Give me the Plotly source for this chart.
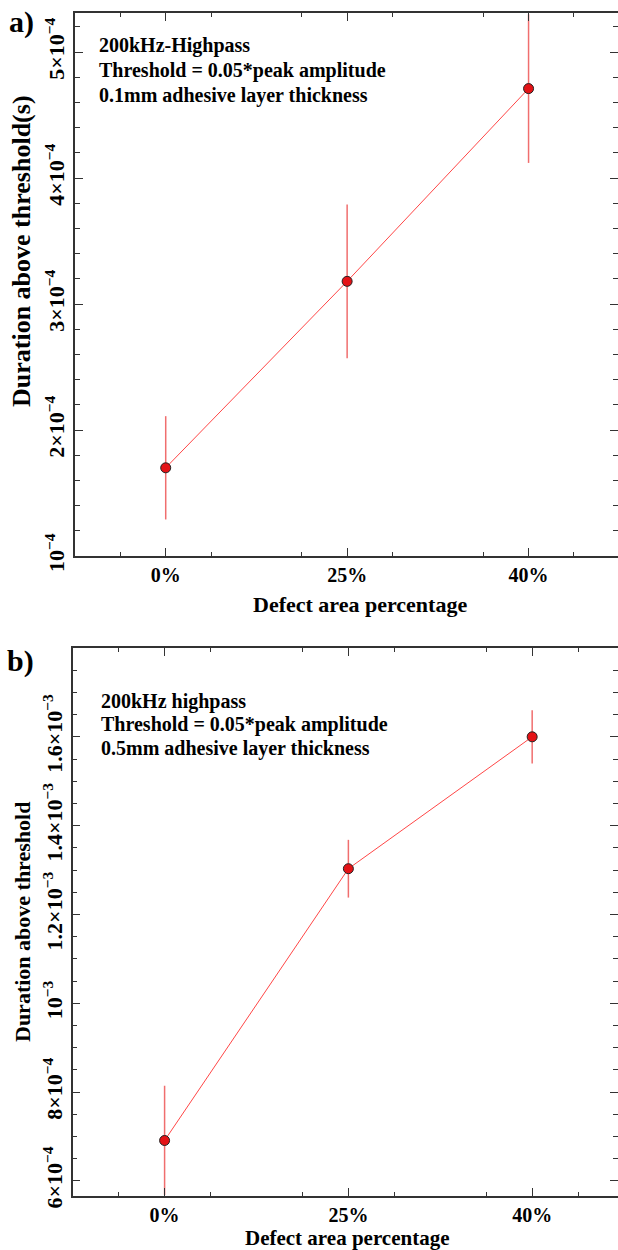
import plotly.graph_objects as go

# Category positions and labels shared by both panels
x_pos = [1, 2, 3]
x_labels = ["0%", "25%", "40%"]
x_half = [1.5, 2.5]
x_minor = [0.75, 1.25, 1.75, 2.25, 2.75, 3.25]

# Panel a: 0.1 mm adhesive layer
dur_a = [1.70e-4, 3.18e-4, 4.71e-4]
err_a = [0.41e-4, 0.61e-4, 0.59e-4]
ytick_a = [1e-4, 2e-4, 3e-4, 4e-4, 5e-4]
ytext_a = ["10<sup>−4</sup>", "2×10<sup>−4</sup>", "3×10<sup>−4</sup>",
           "4×10<sup>−4</sup>", "5×10<sup>−4</sup>"]
notes_a = ["200kHz-Highpass", "Threshold = 0.05*peak amplitude",
           "0.1mm adhesive layer thickness"]

# Panel b: 0.5 mm adhesive layer
dur_b = [6.91e-4, 1.303e-3, 1.60e-3]
err_b = [1.23e-4, 0.065e-3, 0.06e-3]
ytick_b = [6e-4, 8e-4, 1.0e-3, 1.2e-3, 1.4e-3, 1.6e-3]
ytext_b = ["6×10<sup>−4</sup>", "8×10<sup>−4</sup>", "10<sup>−3</sup>",
           "1.2×10<sup>−3</sup>", "1.4×10<sup>−3</sup>", "1.6×10<sup>−3</sup>"]
notes_b = ["200kHz highpass", "Threshold = 0.05*peak amplitude",
           "0.5mm adhesive layer thickness"]

W, H = 618, 1250
FONT = "Liberation Serif"
AX = "#333333"
LINE_RED = "rgb(255,70,70)"
ERR_RED = "rgb(240,110,110)"
MARK_RED = "rgb(228,18,22)"


def px(x):
    return x / W


def py(y):
    return 1 - y / H


def series(x, y, e, xa, ya):
    return go.Scatter(
        x=x, y=y, xaxis=xa, yaxis=ya, mode="lines+markers",
        line=dict(color=LINE_RED, width=1),
        marker=dict(size=10, color=MARK_RED, line=dict(color="#222222", width=1)),
        error_y=dict(type="data", array=e, visible=True, color=ERR_RED,
                     thickness=1.5, width=0),
        showlegend=False, cliponaxis=True,
    )


fig = go.Figure()
fig.add_trace(series(x_pos, dur_a, err_a, "x", "y"))
fig.add_trace(series(x_pos, dur_b, err_b, "x2", "y2"))

tickfont = dict(family=FONT, size=20, color="black", weight="bold")
ytickfont = dict(family=FONT, size=22, color="black", weight="bold")


def xaxis(domain, rng, anchor):
    return dict(
        domain=domain, range=rng, anchor=anchor, automargin=False,
        tickmode="array", tickvals=x_pos, ticktext=x_labels,
        ticks="inside", ticklen=8, tickwidth=1.3, tickcolor=AX,
        minor=dict(tickmode="array", tickvals=x_minor,
                   ticks="inside", ticklen=4, tickwidth=1.3, tickcolor=AX),
        showline=True, linecolor=AX, linewidth=1.5, mirror="ticks",
        showgrid=False, zeroline=False, tickfont=tickfont,
    )


def xaxis_half(domain, rng, anchor, over):
    # unlabelled long ticks half way between categories
    return dict(
        domain=domain, range=rng, anchor=anchor, overlaying=over, automargin=False,
        tickmode="array", tickvals=x_half, showticklabels=False,
        ticks="inside", ticklen=8, tickwidth=1.3, tickcolor=AX,
        showline=True, linecolor=AX, linewidth=1.5, mirror="ticks",
        showgrid=False, zeroline=False,
    )


def yaxis(domain, rng, anchor, vals, text, minor_dt):
    return dict(
        domain=domain, range=rng, anchor=anchor, automargin=False,
        tickmode="array", tickvals=vals, ticktext=text, tickangle=-90,
        ticks="inside", ticklen=8, tickwidth=1.3, tickcolor=AX,
        minor=dict(dtick=minor_dt, tick0=vals[0], ticks="inside", ticklen=5,
                   tickwidth=1.3, tickcolor=AX),
        showline=True, linecolor=AX, linewidth=1.5, mirror="ticks",
        showgrid=False, zeroline=False, tickfont=ytickfont,
    )


annotations = []


def text(x, y, s, size, angle=0, xanchor="center"):
    annotations.append(dict(
        xref="paper", yref="paper", x=px(x), y=py(y), text=s, showarrow=False,
        xanchor=xanchor, yanchor="middle", textangle=angle,
        font=dict(family=FONT, size=size, color="black", weight="bold"),
    ))


# Panel labels
text(7, 22, "a)", 30, xanchor="left")
text(5, 661, "b)", 30, xanchor="left")

# Axis titles
text(360, 604, "Defect area percentage", 22)
text(347, 1238, "Defect area percentage", 21)
text(22, 251, "Duration above threshold(s)", 26, angle=-90)
text(22, 922, "Duration above threshold", 22, angle=-90)

# In-plot notes
for i, s in enumerate(notes_a):
    text(97, 45 + i * 25.5, s, 20, xanchor="left")
for i, s in enumerate(notes_b):
    text(99, 701 + i * 23.5, s, 20, xanchor="left")

rng_a = [0.5, 3.493]
rng_b = [0.5, 3.467]
dom_a = [px(75), 1]
dom_b = [px(72.7), 1]

fig.update_layout(
    width=W, height=H, margin=dict(l=0, r=0, t=0, b=0),
    paper_bgcolor="white", plot_bgcolor="white",
    xaxis=xaxis(dom_a, rng_a, "y"),
    yaxis=yaxis([py(556), py(13)], [1e-4, 5.31e-4], "x", ytick_a, ytext_a, 0.2e-4),
    xaxis2=xaxis(dom_b, rng_b, "y2"),
    yaxis2=yaxis([py(1196), py(648)], [5.66e-4, 1.80e-3], "x2", ytick_b, ytext_b, 0.5e-4),
    xaxis3=xaxis_half(dom_a, rng_a, "y", "x"),
    xaxis4=xaxis_half(dom_b, rng_b, "y2", "x2"),
    annotations=annotations,
)

fig.write_html("out.html")
